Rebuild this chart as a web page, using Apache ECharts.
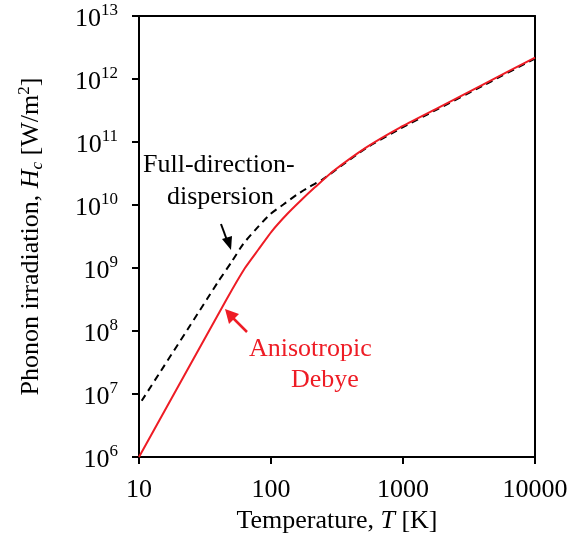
<!DOCTYPE html>
<html>
<head>
<meta charset="utf-8">
<script src="https://cdn.jsdelivr.net/npm/echarts@6/dist/echarts.min.js"></script>
<style>html,body{margin:0;padding:0;background:#fff;}#c{width:575px;height:539px;}</style>
</head>
<body>
<div id="c"></div>
<script>
// Anisotropic Debye (red, solid)
const debyeT = [10, 46, 63.5, 80, 101, 131.5, 166, 215, 297, 531, 948, 1800, 4035, 10000];
const debyeH = [1e6, 3.16e8, 1.0e9, 1.95e9, 3.8e9, 7.08e9, 1.15e10, 1.91e10, 3.47e10, 8.32e10, 1.70e11, 3.40e11, 8.17e11, 2.19e12];
// Full-direction-dispersion (black, dashed)
const fullT = [10.48, 32.6, 39.9, 50.4, 61.7, 77.9, 98.2, 124, 157, 197, 242, 297, 531, 948, 1800, 4035, 10000];
const fullH = [7.82e6, 3.16e8, 6.14e8, 1.26e9, 2.43e9, 4.27e9, 7.11e9, 1.02e10, 1.46e10, 1.97e10, 2.49e10, 3.39e10, 8.13e10, 1.62e11, 3.27e11, 7.85e11, 2.11e12];
const xTicks = [10, 100, 1000, 10000];
const yExps = [6, 7, 8, 9, 10, 11, 12, 13];

const FONT = '"Liberation Serif", "Times New Roman", serif';
const RED = '#ee1c25';

const chart = echarts.init(document.getElementById('c'), null, {renderer: 'canvas'});
const zip = (a, b) => a.map((v, i) => [v, b[i]]);

chart.setOption({
  animation: false,
  grid: {left: 139, right: 40, top: 9, bottom: 80},
  xAxis: [{
    type: 'log', logBase: 10, min: xTicks[0], max: xTicks[xTicks.length - 1],
    interval: 1,
    axisLine: {show: true, lineStyle: {color: '#000', width: 2}},
    axisTick: {show: true, inside: false, length: 7, lineStyle: {color: '#000', width: 2}},
    minorTick: {show: false},
    splitLine: {show: false},
    axisLabel: {margin: 20, color: '#000', fontFamily: FONT, fontSize: 26,
      formatter: v => String(Math.round(v))},
    name: '{n|Temperature, }{i|T}{n| [K]}',
    nameLocation: 'middle', nameGap: 50,
    nameTextStyle: {rich: {
      n: {fontFamily: FONT, fontSize: 26, color: '#000'},
      i: {fontFamily: FONT, fontSize: 26, fontStyle: 'italic', color: '#000'}
    }}
  }, {
    type: 'log', logBase: 10, min: 10, max: 10000, position: 'top',
    axisLine: {show: true, onZero: false, lineStyle: {color: '#000', width: 2}},
    axisTick: {show: false}, axisLabel: {show: false}, splitLine: {show: false}
  }],
  yAxis: [{
    type: 'log', logBase: 10, min: Math.pow(10, yExps[0]), max: Math.pow(10, yExps[yExps.length - 1]),
    interval: 1,
    axisLine: {show: true, lineStyle: {color: '#000', width: 2}},
    axisTick: {show: true, inside: false, length: 7, lineStyle: {color: '#000', width: 2}},
    splitLine: {show: false},
    axisLabel: {margin: 21, color: '#000',
      formatter: v => '{b|10}{s|' + Math.round(Math.log10(v)) + '}',
      rich: {
        b: {fontFamily: FONT, fontSize: 26, color: '#000', lineHeight: 28, padding: [6, 0, 0, 0]},
        s: {fontFamily: FONT, fontSize: 17, color: '#000', lineHeight: 17, verticalAlign: 'top'}
      }
    },
    name: '{n|Phonon irradiation, }{i|H}{sub|c}{n| [W/m}{sup|2}{n|]}',
    nameLocation: 'middle', nameGap: 93, nameRotate: 90,
    nameTextStyle: {rich: {
      n: {fontFamily: FONT, fontSize: 26, color: '#000', lineHeight: 30},
      i: {fontFamily: FONT, fontSize: 26, fontStyle: 'italic', color: '#000', lineHeight: 30},
      sub: {fontFamily: FONT, fontSize: 17, fontStyle: 'italic', color: '#000', lineHeight: 16, verticalAlign: 'bottom'},
      sup: {fontFamily: FONT, fontSize: 17, color: '#000', lineHeight: 16, verticalAlign: 'top'}
    }}
  }, {
    type: 'log', logBase: 10, min: 1e6, max: 1e13, position: 'right',
    axisLine: {show: true, onZero: false, lineStyle: {color: '#000', width: 2}},
    axisTick: {show: false}, axisLabel: {show: false}, splitLine: {show: false}
  }],
  series: [{
    name: 'Full-direction-dispersion', type: 'line', data: zip(fullT, fullH),
    smooth: 0.2, showSymbol: false, symbol: 'none',
    lineStyle: {color: '#000', width: 2, type: [7, 5]}, z: 3
  }, {
    name: 'Anisotropic Debye', type: 'line', data: zip(debyeT, debyeH),
    smooth: 0.2, showSymbol: false, symbol: 'none',
    lineStyle: {color: RED, width: 2}, z: 4
  }],
  graphic: [
    {type: 'text', left: 143, top: 152, style: {text: 'Full-direction-', font: '26px ' + FONT, fill: '#000'}},
    {type: 'text', left: 167, top: 184, style: {text: 'dispersion', font: '26px ' + FONT, fill: '#000'}},
    {type: 'line', shape: {x1: 221, y1: 224, x2: 228, y2: 243}, style: {stroke: '#000', lineWidth: 2}},
    {type: 'polygon', shape: {points: [[231, 250], [222, 239], [232, 236]]}, style: {fill: '#000'}},
    {type: 'text', left: 249, top: 336, style: {text: 'Anisotropic', font: '26px ' + FONT, fill: RED}},
    {type: 'text', left: 291, top: 367, style: {text: 'Debye', font: '26px ' + FONT, fill: RED}},
    {type: 'line', shape: {x1: 247, y1: 332, x2: 231, y2: 316}, style: {stroke: RED, lineWidth: 2.5}},
    {type: 'polygon', shape: {points: [[225, 309], [229, 324], [239, 314]]}, style: {fill: RED}}
  ]
});
</script>
</body>
</html>
